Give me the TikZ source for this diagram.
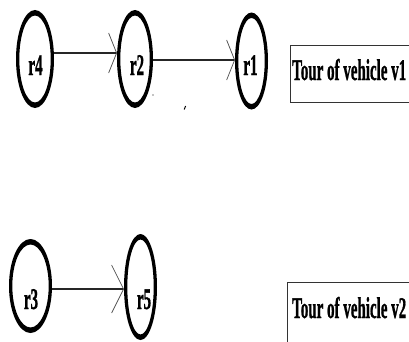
\documentclass[tikz,border=0pt]{standalone}
\usepackage{fontspec}
\setmainfont{Liberation Serif}[BoldFeatures={FakeBold=1.2}]
\usetikzlibrary{shapes.geometric,arrows.meta}
\newcommand\drawring[3]{%
  \fill[ringcol,even odd rule] (#1.center) ellipse [x radius=#2pt, y radius=#3pt]
        (#1.center) ellipse [x radius=#2pt-3.3pt, y radius=#3pt-5.5pt];}
\colorlet{ringcol}{black}
\begin{document}
\begin{tikzpicture}[x=1pt,y=1pt,
  vnode/.style={ellipse,draw=none,inner sep=0pt,outer sep=0pt},
  vlabel/.style={anchor=base,inner sep=0pt,font=\fontsize{15}{17}\selectfont\bfseries},
  tourtext/.style={anchor=base west,inner sep=0pt,font=\fontsize{15}{17}\selectfont\bfseries},
  tourbox/.style={draw=black!80,line width=1.4pt,inner sep=0pt,rectangle,anchor=north west},
  edge/.style={draw=black!85,line width=1.3pt,
     -{Straight Barb[length=8pt,width=40pt,line width=0.7pt,color=black!70]}},
  speck/.style={draw=black,line width=1pt}]
\useasboundingbox (0,0) rectangle (409,341);
\clip (0,0) rectangle (409,341);
% vehicle v1
\node[vnode,minimum width=38pt,minimum height=98pt] (r4) at (35,282) {};
\node[vnode,minimum width=36pt,minimum height=98pt] (r2) at (135,282) {};
\node[vnode,minimum width=33pt,minimum height=97pt] (r1) at (251.5,280) {};
\drawring{r4}{19}{49}
\drawring{r2}{18}{49}
\drawring{r1}{16.5}{48.5}
\node[vlabel] (l4) at (35.5,266) {\scalebox{1}[2]{r4}};
\node[vlabel] (l2) at (137,266) {\scalebox{1}[2]{r2}};
\node[vlabel] (l1) at (250.5,266) {\scalebox{1}[2]{r1}};
\draw[edge] ([yshift=6pt]r4.east) -- ([yshift=6pt]r2.west);
\draw[edge] ([yshift=-1pt]r2.east) -- ([yshift=1pt]r1.west);
\node[tourbox,minimum width=130pt,minimum height=57pt] (b1) at (290,296) {};
\node[tourtext] (t1) at (292,261) {\scalebox{1}[2]{Tour of vehicle v1}};
% stray specks
\coordinate (s1) at (153,246);
\coordinate (s2) at (184.2,231.5);
\coordinate (s3) at (185.6,235);
\fill (s1) circle [radius=0.7pt];
\draw[speck] (s2) -- (s3);
% vehicle v2
\node[vnode,minimum width=43pt,minimum height=94pt] (r3) at (30.5,55) {};
\node[vnode,minimum width=33pt,minimum height=106pt] (r5) at (140.5,54) {};
\drawring{r3}{21.5}{47}
\drawring{r5}{16.5}{53}
\node[vlabel] (l3) at (31,32) {\scalebox{1}[2]{r3}};
\node[vlabel] (l5) at (144,32) {\scalebox{1}[2]{r5}};
\draw[edge,-{Straight Barb[length=12pt,width=48pt,line width=0.7pt,color=black!70]}]
   ([yshift=-3pt]r3.east) -- ([yshift=-2pt]r5.west);
\node[tourbox,minimum width=130pt,minimum height=80pt] (b2) at (287,59) {};
\node[tourtext] (t2) at (292,23) {\scalebox{1}[2]{Tour of vehicle v2}};
\end{tikzpicture}
\end{document}
